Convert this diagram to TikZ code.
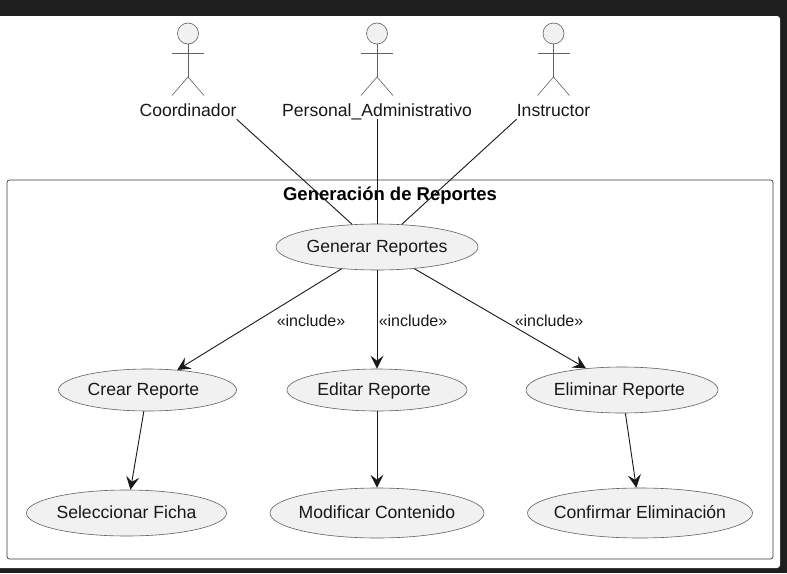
\documentclass[tikz,border=0pt]{standalone}
\usepackage{fontspec}
\setmainfont{Liberation Sans}
\usepackage{xcolor}
\usetikzlibrary{shapes,positioning,arrows.meta}
\definecolor{umlink}{HTML}{181818}
\definecolor{umlthin}{HTML}{606060}
\definecolor{umlfill}{HTML}{F1F1F1}
\definecolor{pagedark}{HTML}{1E1E1E}
\tikzset{
    usecase/.style={draw=umlthin, ellipse, fill=umlfill, line width=0.6pt, inner xsep=-30pt, inner ysep=0pt, text=umlink, text height=14.5pt, text depth=3pt, font=\fontsize{17.6}{20}\selectfont},
    actorname/.style={anchor=base, inner sep=0pt, text=umlink, text depth=3pt, font=\fontsize{17.6}{20}\selectfont},
    actorhead/.style={draw=umlthin, circle, fill=umlfill, line width=0.6pt, inner sep=0pt, minimum size=21pt},
    limb/.style={draw=umlthin, line width=0.6pt},
    assoc/.style={draw=umlink, line width=0.9pt},
    incl/.style={draw=umlink, line width=0.9pt, -{Stealth[length=13pt,width=13pt,inset=5pt]}},
    inclabel/.style={font=\fontsize{16}{18}\selectfont, text=umlink, inner sep=0pt}
}
\begin{document}
\begin{tikzpicture}[x=1pt,y=-1pt]
\useasboundingbox (0,0) rectangle (787,573);
\fill[pagedark] (0,0) rectangle (787,573);
\fill[white, rounded corners=3pt] (-6,16) rectangle (780,568);

% package frame
\node[draw=umlink!85, line width=0.7pt, rounded corners=2.5pt, minimum width=766pt, minimum height=379pt, inner sep=0pt] (frame) at (390,369.5) {};
\node[anchor=base, font=\bfseries\fontsize{18.5}{20}\selectfont, inner sep=0pt] (frametitle) at (390,200) {Generación de Reportes};

% actors
\foreach \nm/\px/\lbl in {coord/188/Coordinador, admin/377/Personal\_Administrativo, instr/553.5/Instructor} {
    \node[actorhead] (\nm head) at (\px,33.5) {};
    \coordinate (\nm hip) at (\px,77);
    \draw[limb] (\nm head) -- (\nm hip);
    \draw[limb] (\px-16,53) -- (\px+16,53);
    \draw[limb] (\px-16,95.5) -- (\nm hip) -- (\px+16,95.5);
    \node[actorname] (\nm) at (\px,116) {\lbl};
}

% use cases
\node[usecase, minimum width=202pt, minimum height=46pt] (generar) at (377,247) {Generar Reportes};
\node[usecase, minimum width=178pt, minimum height=42pt] (crear) at (147.5,390) {Crear Reporte\kern8pt};
\node[usecase, minimum width=180pt, minimum height=42pt] (editar) at (377,390) {Editar Reporte\kern6pt};
\node[usecase, minimum width=192pt, minimum height=46pt] (eliminar) at (622,390) {Eliminar Reporte\kern5pt};
\node[usecase, minimum width=200pt, minimum height=46pt] (seleccionar) at (126.5,513) {Seleccionar Ficha};
\node[usecase, minimum width=214pt, minimum height=50pt] (modificar) at (377,513) {Modificar Contenido};
\node[usecase, minimum width=225pt, minimum height=50pt] (confirmar) at (640,513) {Confirmar Eliminación};

% connectors
\draw[assoc] (coord.south east) -- (generar);
\draw[assoc] (admin.south) -- (generar);
\draw[assoc] (instr.south west) -- (generar);
\draw[incl] (generar) -- (crear.34);
\draw[incl] (generar) -- (editar);
\draw[incl] (generar) -- (eliminar.149);
\draw[incl] (crear) -- (seleccionar);
\draw[incl] (editar) -- (modificar);
\draw[incl] (eliminar) -- (confirmar);

\node[inclabel] (inc1) at (311,321) {«include»};
\node[inclabel] (inc2) at (413,321) {«include»};
\node[inclabel] (inc3) at (549,321) {«include»};
\end{tikzpicture}
\end{document}
